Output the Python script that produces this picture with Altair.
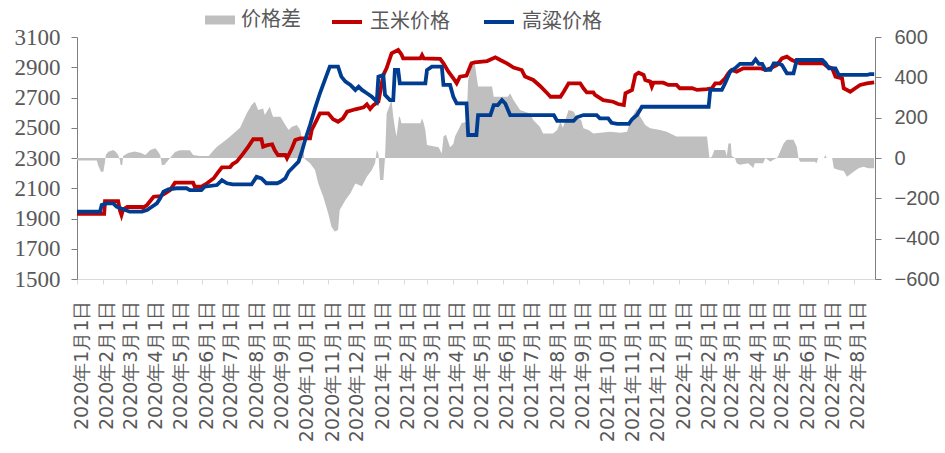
import altair as alt
import pandas as pd
from datetime import date, timedelta

START = date(2020, 1, 1)

# 玉米价格 (left axis) : days since 2020-01-01, price
corn_days = [0,33,34,50,52,54,56,61,79,80,
             85,93,101,107,113,119,141,143,151,158,
             166,171,176,186,189,194,202,208,214,224,
             226,231,237,240,244,253,255,261,265,271,
             283,285,291,295,305,311,317,323,328,338,
             348,352,356,360,366,372,376,382,390,394,
             396,417,419,421,441,445,451,457,461,465,
             473,479,483,498,508,514,522,530,540,544,
             554,562,571,575,587,591,597,611,615,619,
             627,629,639,651,657,664,666,674,678,682,
             688,690,696,698,700,712,718,728,732,747,
             753,765,771,775,781,787,791,795,801,809,
             830,836,842,850,856,862,868,878,906,911,
             917,921,929,931,939,945,951,959,968]
corn_price = [1930,1930,2015,2015,1956,1923,1960,1976,1976,1970,
              1989,2044,2048,2066,2088,2137,2137,2110,2110,2133,
              2166,2203,2238,2240,2260,2276,2331,2375,2424,2424,
              2375,2385,2390,2353,2320,2320,2298,2364,2419,2430,
              2430,2485,2551,2595,2595,2556,2540,2562,2606,2622,
              2635,2655,2625,2650,2672,2850,2895,2992,3014,2985,
              2959,2959,2980,2959,2955,2926,2871,2827,2794,2838,
              2845,2926,2933,2941,2966,2948,2926,2898,2882,2838,
              2816,2778,2728,2705,2705,2738,2794,2794,2761,2734,
              2734,2717,2683,2672,2657,2650,2728,2750,2849,2864,
              2849,2816,2805,2772,2798,2798,2783,2783,2761,2761,
              2750,2755,2761,2794,2794,2827,2860,2882,2871,2893,
              2893,2882,2893,2915,2959,2970,2948,2926,2926,2904,
              2893,2838,2827,2761,2738,2761,2783,2794,2800]

# 高粱价格 (left axis)
sorghum_days = [0,28,30,36,44,48,56,64,79,85,
                91,97,101,105,111,121,133,137,151,155,
                170,176,182,189,212,218,224,230,243,247,
                253,257,263,269,273,277,283,289,295,301,
                307,317,321,326,332,338,342,346,352,358,
                364,366,372,374,380,384,386,390,392,423,
                425,431,443,445,453,457,461,473,475,485,
                487,502,506,511,516,520,526,579,583,603,
                607,615,631,635,645,649,656,670,674,680,
                686,767,769,783,787,793,799,805,820,824,
                828,832,836,842,846,851,856,862,870,874,
                905,909,913,921,925,959,963,968]
sorghum_price = [1945,1945,1989,2000,2000,1978,1961,1945,1945,1956,
                 1978,2000,2033,2077,2093,2100,2100,2088,2088,2110,
                 2121,2154,2133,2125,2125,2176,2165,2133,2133,2143,
                 2166,2209,2242,2276,2342,2419,2518,2628,2728,2816,
                 2904,2904,2838,2805,2783,2750,2772,2750,2728,2705,
                 2672,2838,2849,2717,2683,2683,2882,2882,2794,2794,
                 2882,2904,2904,2783,2783,2705,2661,2661,2452,2452,
                 2584,2584,2650,2650,2683,2660,2584,2584,2545,2545,
                 2569,2584,2584,2562,2562,2533,2525,2525,2556,2584,
                 2639,2639,2750,2750,2794,2871,2893,2922,2922,2952,
                 2922,2922,2882,2882,2926,2926,2915,2860,2860,2948,
                 2948,2926,2893,2893,2849,2849,2855,2855]

# 价格差 (right axis)
spread_days = [0,24,26,29,32,34,35,38,44,47,
               50,52,53,55,56,62,70,78,83,89,
               95,97,101,103,106,109,113,119,125,137,
               141,149,160,164,170,178,186,190,198,206,
               212,216,220,226,228,234,238,247,253,257,
               261,267,271,273,276,278,283,289,293,299,
               305,309,313,317,319,326,332,338,346,352,
               358,362,364,366,368,372,374,376,382,384,
               386,388,391,392,394,417,419,421,423,425,
               439,443,445,448,453,457,459,463,467,473,
               475,479,483,487,504,506,523,526,528,530,
               538,550,554,562,566,578,583,587,590,597,
               603,607,612,615,621,627,647,660,668,672,
               680,684,690,696,708,716,728,765,768,771,
               774,787,789,791,794,795,799,801,805,815,
               820,821,823,833,836,842,845,850,852,858,
               862,870,874,876,878,896,898,900,907,909,
               910,917,919,925,931,935,939,943,949,955,
               961,968]
spread_value = [-13,-13,-40,-68,-68,-20,15,31,40,31,
                15,-10,-35,-35,10,25,32,25,15,40,
                48,40,15,-35,-35,-20,0,30,38,38,
                15,10,10,30,56,81,106,122,150,221,
                263,279,238,246,213,254,205,205,164,139,
                155,164,139,100,0,-10,-26,-60,-126,-192,
                -274,-341,-365,-357,-258,-208,-175,-126,-140,-93,
                -60,-25,40,22,-109,-109,0,221,288,205,
                150,106,205,205,172,172,197,172,139,64,
                53,22,106,115,53,70,106,139,172,180,
                387,453,470,354,354,304,304,320,304,288,
                238,221,188,155,122,122,139,180,150,238,
                230,197,190,147,139,122,130,125,130,188,
                246,205,164,147,139,130,106,106,0,8,
                40,40,10,72,72,10,0,-26,-33,-26,
                -45,-51,-26,-26,0,-18,-10,0,15,72,
                90,90,56,0,-18,-18,-26,0,0,15,
                0,0,-51,-60,-65,-93,-80,-68,-51,-43,
                -51,-51]

left_ticks = [1500, 1700, 1900, 2100, 2300, 2500, 2700, 2900, 3100]
right_ticks = [-600, -400, -200, 0, 200, 400, 600]
line_names = ["玉米价格", "高粱价格"]
line_colors = ["#C00000", "#003C8F"]
spread_name = "价格差"
spread_color = "#BFBFBF"


def to_date(d):
    return (START + timedelta(days=d)).isoformat()


lines_df = pd.DataFrame({
    "date": [to_date(d) for d in corn_days] + [to_date(d) for d in sorghum_days],
    "price": corn_price + sorghum_price,
    "series": [line_names[0]] * len(corn_days) + [line_names[1]] * len(sorghum_days),
})
spread_df = pd.DataFrame({
    "date": [to_date(d) for d in spread_days],
    "diff": spread_value,
    "series": [spread_name] * len(spread_days),
})

x_enc = alt.X(
    "date:T",
    scale=alt.Scale(type="utc", domain=[
        alt.DateTime(year=2020, month=1, date=1, utc=True),
        alt.DateTime(year=2022, month=8, date=27, utc=True)]),
    axis=alt.Axis(
        title=None,
        tickCount={"interval": "month", "step": 1},
        labelExpr="utcFormat(datum.value, '%Y年%-m月%-d日')",
        labelAngle=-90,
        labelFont="DejaVu Sans",
        labelFontSize=19,
        labelColor="#595959",
        labelPadding=16,
        labelOffset=4,
        labelOverlap=False,
        labelFlush=False,
        labelBound=False,
        domainColor="#D9D9D9",
        tickColor="#D9D9D9",
        tickSize=5,
        grid=False,
    ),
)

area = alt.Chart(spread_df).mark_area(interpolate="linear", opacity=1).encode(
    x=x_enc,
    y=alt.Y("diff:Q",
            scale=alt.Scale(domain=[-600, 600], nice=False, zero=False),
            axis=alt.Axis(orient="right", title=None, values=right_ticks,
                          labelFont="Liberation Sans", labelFontSize=20,
                          labelColor="#595959", domainColor="#7F7F7F",
                          tickColor="#7F7F7F", tickSize=6, labelPadding=13,
                          grid=False)),
    color=alt.Color("series:N",
                    scale=alt.Scale(domain=[spread_name], range=[spread_color]),
                    legend=alt.Legend(title=None, orient="none", legendX=128, legendY=-32,
                                      direction="horizontal",
                                      symbolType="M-1,-0.3H1V0.3H-1Z", symbolSize=900,
                                      symbolStrokeWidth=0, labelOffset=6,
                                      labelFont="Noto Sans CJK SC", labelFontSize=20,
                                      labelColor="#595959")),
)

lines = alt.Chart(lines_df).mark_line(interpolate="linear", strokeWidth=3.8).encode(
    x=x_enc,
    y=alt.Y("price:Q",
            scale=alt.Scale(domain=[1500, 3100], nice=False, zero=False),
            axis=alt.Axis(orient="left", title=None, values=left_ticks, format="d",
                          labelFont="Liberation Serif", labelFontSize=23,
                          labelColor="#595959", domainColor="#7F7F7F",
                          tickColor="#7F7F7F", tickSize=6, labelPadding=11,
                          grid=False)),
    color=alt.Color("series:N",
                    scale=alt.Scale(domain=line_names, range=line_colors),
                    legend=alt.Legend(title=None, orient="none", legendX=253, legendY=-32,
                                      direction="horizontal", symbolType="stroke",
                                      symbolSize=900, symbolStrokeWidth=4,
                                      labelOffset=6, columnPadding=26,
                                      labelFont="Noto Sans CJK SC", labelFontSize=20,
                                      labelColor="#595959")),
    detail="series:N",
)

chart = alt.layer(area, lines).resolve_scale(
    y="independent", color="independent"
).properties(
    width=798, height=242,
    autosize=alt.AutoSizeParams(type="none"),
    padding={"left": 77, "top": 37, "right": 70, "bottom": 174},
).configure_view(stroke=None)

chart.save("out.html", embed_options={"renderer": "svg", "actions": False})
